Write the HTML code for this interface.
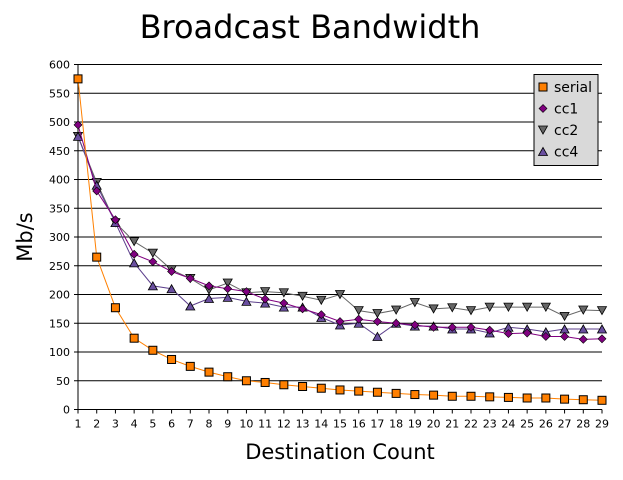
<!DOCTYPE html>
<html><head><meta charset="utf-8"><style>
body{margin:0;background:#fff;font-family:"DejaVu Sans","Liberation Sans",sans-serif}
</style></head><body>
<svg id="c" width="623" height="476" font-family="DejaVu Sans, Liberation Sans, sans-serif"></svg>
<script>
const categories=[1,2,3,4,5,6,7,8,9,10,11,12,13,14,15,16,17,18,19,20,21,22,23,24,25,26,27,28,29];
const serial=[575,265,177,124,103,87,75,65,57,50,47,43,40,37,34,32,30,28,26,25,23,23,22,21,20,20,18,17,16];
const cc1=[495,380,330,270,257,240,228,215,210,205,192,185,175,165,153,157,153,150,147,143,143,143,138,132,133,127,127,122,123];
const cc2=[475,395,325,292,272,243,228,208,220,203,205,203,197,190,200,172,167,173,186,175,177,172,178,178,178,178,162,173,172];
const cc4=[475,390,325,255,215,210,180,193,195,188,185,178,178,160,147,150,127,150,145,145,140,140,133,143,140,135,140,140,140];
const yTicks=[0,50,100,150,200,250,300,350,400,450,500,550,600];
const svg=document.getElementById('c');const NS='http://www.w3.org/2000/svg';
const X0=78,X1=602,Y0=409.5,Y1=64.5;
const xs=v=>X0+(v-1)*(X1-X0)/28;const ys=v=>Y0-v*(Y0-Y1)/600;
function mk(t,a,p){const e=document.createElementNS(NS,t);for(const k in a)e.setAttribute(k,a[k]);(p||svg).appendChild(e);return e;}
let t=mk('text',{x:310,y:38,'font-size':32,'text-anchor':'middle',fill:'#000'});t.textContent='Broadcast Bandwidth';


yTicks.forEach(v=>{const l=mk('line',{x1:X0-4,x2:X1,y1:ys(v),y2:ys(v),stroke:'#000','stroke-width':1});


const tx=mk('text',{x:X0-8,y:ys(v)+4,'font-size':11,'text-anchor':'end'});tx.textContent=v;

});
mk('line',{x1:X0,x2:X0,y1:Y1,y2:Y0+4,stroke:'#000'});
categories.forEach(c=>{mk('line',{x1:xs(c),x2:xs(c),y1:Y0,y2:Y0+4,stroke:'#000'});
const tx=mk('text',{x:xs(c),y:Y0+18,'font-size':11,'text-anchor':'middle'});tx.textContent=c;

});
t=mk('text',{x:340,y:459,'font-size':21,'text-anchor':'middle'});t.textContent='Destination Count';


t=mk('text',{x:0,y:0,'font-size':21,'text-anchor':'middle',transform:'translate(32,237) rotate(-90)'});t.textContent='Mb/s';


function marker(type,x,y,fill,g){
 if(type==='sq')return mk('rect',{x:x-4,y:y-4,width:8,height:8,fill:fill,stroke:'#000','stroke-width':1},g);
 if(type==='di')return mk('polygon',{points:`${x},${y-4} ${x+4},${y} ${x},${y+4} ${x-4},${y}`,fill:fill,stroke:'#000','stroke-width':0.6},g);
 if(type==='dn')return mk('polygon',{points:`${x-4.5},${y-4} ${x+4.5},${y-4} ${x},${y+4}`,fill:fill,stroke:'#000','stroke-width':0.8},g);
 return mk('polygon',{points:`${x-4.5},${y+4} ${x+4.5},${y+4} ${x},${y-4}`,fill:fill,stroke:'#000','stroke-width':0.8},g);
}
const series=[['cc2',cc2,'#666','#666','dn'],['cc4',cc4,'#5c3f8c','#6a4fa0','up'],['cc1',cc1,'#800080','#800080','di'],['serial',serial,'#ff8000','#ff7f00','sq']];
series.forEach(([n,d,lc,fc,m])=>{const g=mk('g',{});


mk('polyline',{points:d.map((v,i)=>xs(categories[i])+','+ys(v)).join(' '),fill:'none',stroke:lc,'stroke-width':1},g);
d.forEach((v,i)=>{const p=marker(m,xs(categories[i]),ys(v),fc,g);

});});
const lg=mk('g',{});


mk('rect',{x:534,y:74.5,width:64,height:91,fill:'#d9d9d9',stroke:'#000'},lg);
[['serial','sq','#ff7f00'],['cc1','di','#800080'],['cc2','dn','#666'],['cc4','up','#6a4fa0']].forEach(([n,m,f],i)=>{
 const y=87+i*21.5;marker(m,543,y,f,lg);
 const tx=mk('text',{x:554,y:y+5,'font-size':14},lg);tx.textContent=n;
 
 });
</script>
</body></html>
